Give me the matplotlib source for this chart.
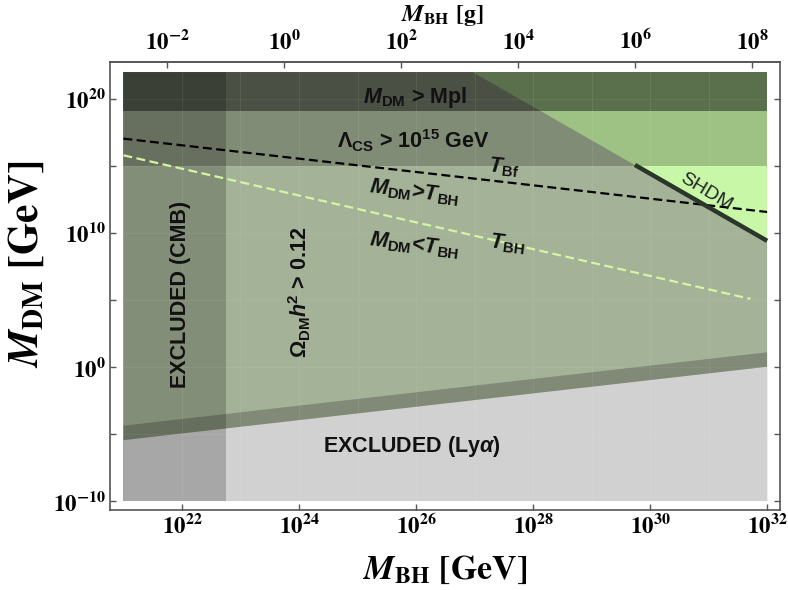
import numpy as np
import matplotlib
matplotlib.use('Agg')
import matplotlib.pyplot as plt
from matplotlib.ticker import FixedLocator, FuncFormatter, NullLocator

plt.rcParams['mathtext.fontset'] = 'custom'
plt.rcParams['mathtext.rm'] = 'Liberation Sans:bold'
plt.rcParams['mathtext.bf'] = 'Liberation Sans:bold'
plt.rcParams['mathtext.it'] = 'Liberation Sans:italic:bold'
plt.rcParams['mathtext.bfit'] = 'Liberation Sans:italic:bold'
plt.rcParams['mathtext.sf'] = 'Liberation Sans:bold'

# ---------------- data ----------------
mbh_range = [1e21, 1e32]          # GeV
mdm_range = [1e-10, 1e22]         # GeV
m_planck = 1.22e19
lambda_cs = 1e15
mbh_cmb = 5.6e22
gev_per_gram = 5.61e23

shdm_bound_x = [9.3e26, 1e32]
shdm_bound_y = [1e22, 2.6e9]
shdm_line_x = [5.5e29, 1e32]
shdm_line_y = [1.2e15, 2.6e9]

lya_x = [1e21, 1e32]
lya_y = [3.5e-6, 1.05]
lya_band_top_y = [4.2e-5, 12.6]

tbf_x = [1e21, 1e32]
tbf_y = [1.1e17, 3.7e11]
tbh_x = [1e21, 5.2e31]
tbh_y = [6.3e15, 1.2e5]

xticks_gev = [1e22, 1e24, 1e26, 1e28, 1e30, 1e32]
yticks = [1e-10, 1e-5, 1e0, 1e5, 1e10, 1e15, 1e20]
ylabeled = [1e-10, 1e0, 1e10, 1e20]
xticks_g = [1e-2, 1e0, 1e2, 1e4, 1e6, 1e8]

# ---------------- colours ----------------
c_light = '#c8f7a8'
c_omega = '#a4b298'
c_lya = '#d1d1d1'

fig = plt.figure(figsize=(7.88, 5.90), dpi=100)
ax = fig.add_axes([110/788, 1-510/590, 670/788, 448/590])
ax.set_xscale('log')
ax.set_yscale('log')
ax.set_xlim(10**20.77, 10**32.22)
ax.set_ylim(10**-10.67, 10**22.76)

x0, x1 = mbh_range
y0, y1 = mdm_range

# base region
ax.fill([x0, x1, x1, x0], [y0, y0, y1, y1], color=c_light, lw=0, zorder=1)
# Omega h^2 > 0.12 region (below SHDM boundary)
ax.fill([x0, x0, shdm_bound_x[0], shdm_bound_x[1], x1],
        [y0, y1, shdm_bound_y[0], shdm_bound_y[1], y0], color=c_omega, lw=0, zorder=2)
# Lyman alpha excluded
ax.fill([lya_x[0], lya_x[1], x1, x0], [lya_y[0], lya_y[1], y0, y0], color=c_lya, lw=0, zorder=3)
# dark band above Lyman alpha
ax.fill([lya_x[0], lya_x[1], lya_x[1], lya_x[0]],
        [lya_y[0], lya_y[1], lya_band_top_y[1], lya_band_top_y[0]], color='black', alpha=0.22, lw=0, zorder=4)
# Lambda_CS band
ax.fill([x0, x1, x1, x0], [lambda_cs, lambda_cs, m_planck, m_planck], color='black', alpha=0.21, lw=0, zorder=4)
# M_DM > Mpl band
ax.fill([x0, x1, x1, x0], [m_planck, m_planck, y1, y1], color='black', alpha=0.55, lw=0, zorder=4)
# CMB excluded strip
ax.fill([x0, mbh_cmb, mbh_cmb, x0], [y0, y0, y1, y1], color='black', alpha=0.2, lw=0, zorder=5)

# faint grid
for d in range(22, 32):
    ax.plot([10.0**d, 10.0**d], [y0, y1], color='white', alpha=0.08, lw=0.7, zorder=6)
for d in range(-5, 21, 5):
    ax.plot([x0, x1], [10.0**d, 10.0**d], color='white', alpha=0.06, lw=0.7, zorder=6)

# lines
ax.plot(tbf_x, tbf_y, color='black', lw=1.6, ls=(0, (4, 2)), zorder=7)
ax.plot(tbh_x, tbh_y, color='#d4f5a4', lw=1.6, ls=(0, (4, 2)), zorder=7)
ax.plot(shdm_line_x, shdm_line_y, color='#2b3529', lw=3.2, solid_capstyle='butt', zorder=8)

# labels inside
kw = dict(fontsize=15.5, fontweight='bold', family='Liberation Sans', color='#111111', zorder=9,
          ha='center', va='center')
ax.text(10**25.98, 10**20.1, r'$\mathbfit{M}_{\mathbf{DM}}$ > Mpl', **kw)
ax.text(10**25.95, 10**16.9, r'$\mathbf{\Lambda}_{\mathbf{CS}}$ > 10$^{\mathbf{15}}$ GeV', **kw)
ax.text(10**27.5, 10**14.9, r'$\mathbfit{T}_{\mathbf{Bf}}$', rotation=-6, **kw)
ax.text(10**25.97, 10**13.0, r'$\mathbfit{M}_{\mathbf{DM}}$>$\mathbfit{T}_{\mathbf{BH}}$', rotation=-7, **kw)
ax.text(10**25.97, 10**9.1, r'$\mathbfit{M}_{\mathbf{DM}}$<$\mathbfit{T}_{\mathbf{BH}}$', rotation=-7, **kw)
ax.text(10**27.56, 10**9.2, r'$\mathbfit{T}_{\mathbf{BH}}$', rotation=-7, **kw)
ax.text(10**21.97, 10**5.4, 'EXCLUDED (CMB)', rotation=90, **kw)
ax.text(10**24.02, 10**5.6, r'$\mathbf{\Omega}_{\mathbf{DM}}\mathbfit{h}^{\mathbf{2}}$ > 0.12', rotation=90, **kw)
ax.text(10**25.93, 10**-5.95, r'EXCLUDED (Ly$\mathbfit{\alpha}$)', **kw)
ax.text(10**30.95, 10**13.1, 'SHDM', rotation=-31, fontsize=14, family='Liberation Sans',
        color='#222222', ha='center', va='center', zorder=9)

# axes styling
frame_c = '#555555'
for s in ax.spines.values():
    s.set_color(frame_c)
    s.set_linewidth(1.2)

def pow_fmt(v, pos):
    e = int(round(np.log10(v)))
    return r'$\mathbf{10^{%d}}$' % e

def pow_fmt_y(v, pos):
    if any(abs(np.log10(v) - np.log10(t)) < 1e-6 for t in ylabeled):
        return pow_fmt(v, pos)
    return ''

ax.xaxis.set_major_locator(FixedLocator(xticks_gev))
ax.xaxis.set_minor_locator(NullLocator())
ax.xaxis.set_major_formatter(FuncFormatter(pow_fmt))
ax.yaxis.set_major_locator(FixedLocator(yticks))
ax.yaxis.set_minor_locator(NullLocator())
ax.yaxis.set_major_formatter(FuncFormatter(pow_fmt_y))
ax.tick_params(axis='both', which='major', direction='in', length=4, width=1,
               color=frame_c, labelsize=16.5, top=False, right=True, pad=3)

sec = ax.secondary_xaxis('top', functions=(lambda x: x / gev_per_gram, lambda g: g * gev_per_gram))
sec.xaxis.set_major_locator(FixedLocator(xticks_g))
sec.xaxis.set_minor_locator(NullLocator())
sec.xaxis.set_major_formatter(FuncFormatter(pow_fmt))
sec.tick_params(axis='x', direction='in', length=4, width=1, color=frame_c, labelsize=16.5, pad=6)
sec.spines['top'].set_color(frame_c)
sec.spines['top'].set_linewidth(1.2)

fig.canvas.draw()
for lbl in ax.get_xticklabels() + ax.get_yticklabels() + sec.get_xticklabels():
    lbl.set_math_fontfamily('stix')

ax.set_xlabel(r'$\mathbfit{M}_{\mathbf{BH}}\ \mathbf{[GeV]}$', fontsize=24.5, math_fontfamily='stix')
ax.xaxis.set_label_coords(0.5, -0.095)
ax.set_ylabel(r'$\mathbfit{M}_{\mathbf{DM}}\ \mathbf{[GeV]}$', fontsize=30, math_fontfamily='stix')
ax.yaxis.set_label_coords(-0.094, 0.548)
fig.text(442/788, 1-15/590, r'$\mathbfit{M}_{\mathbf{BH}}\ \mathbf{[g]}$', fontsize=17.5,
         math_fontfamily='stix', ha='center', va='center')

fig.savefig('out.png', dpi=100, facecolor='white')
